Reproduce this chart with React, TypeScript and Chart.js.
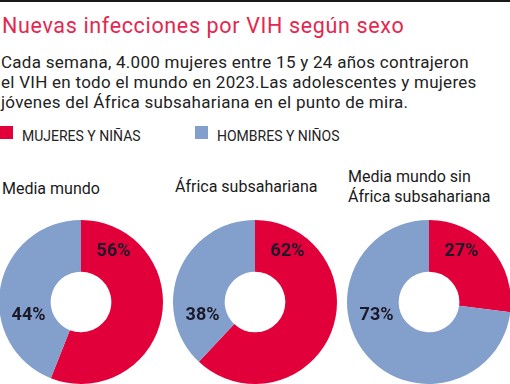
import React, { useEffect, useRef } from "react";
import { Chart, registerables } from "chart.js";

Chart.register(...registerables);

const TITLE = "Nuevas infecciones por VIH según sexo";
const SUBTITLE_LINES = [
  "Cada semana, 4.000 mujeres entre 15 y 24 años contrajeron",
  "el VIH en todo el mundo en 2023.Las adolescentes y mujeres",
  "jóvenes del África subsahariana en el punto de mira.",
];
const SERIES = ["MUJERES Y NIÑAS", "HOMBRES Y NIÑOS"];
const CATEGORIES = [
  ["Media mundo"],
  ["África subsahariana"],
  ["Media mundo sin", "África subsahariana"],
];
const WOMEN = [56, 62, 27];
const MEN = [44, 38, 73];

const RED = "#e2003b";
const BLUE = "#839fcb";
const FONT = "Roboto, 'Noto Sans', sans-serif";

const labelPlugin = {
  id: "sliceLabels",
  afterDatasetsDraw(chart: any) {
    const meta = chart.getDatasetMeta(0);
    const ds = chart.data.datasets[0];
    const arc = meta.data[0];
    if (!arc) return;
    const { x, y, outerRadius } = arc.getProps(["x", "y", "outerRadius"], true);
    const spots = [
      { deg: 33, r: 0.73 },
      { deg: 255.5, r: 0.66 },
    ];
    const ctx = chart.ctx;
    ctx.save();
    ctx.font = `bold 18px ${FONT}`;
    ctx.fillStyle = "#1c1a2a";
    ctx.textAlign = "center";
    ctx.textBaseline = "middle";
    ds.data.forEach((v: number, i: number) => {
      const s = spots[i];
      const a = (s.deg * Math.PI) / 180;
      const rr = outerRadius * s.r;
      ctx.fillText(`${v}%`, x + Math.sin(a) * rr, y - Math.cos(a) * rr);
    });
    ctx.restore();
  },
};

function Donut({ women, men, left }: { women: number; men: number; left: number }) {
  const ref = useRef<HTMLCanvasElement>(null);
  useEffect(() => {
    const chart = new Chart(ref.current!, {
      type: "doughnut",
      data: {
        labels: SERIES,
        datasets: [
          {
            data: [women, men],
            backgroundColor: [RED, BLUE],
            borderWidth: 0,
          },
        ],
      },
      options: {
        animation: false,
        responsive: false,
        cutout: "37%",
        layout: { padding: 0 },
        plugins: { legend: { display: false }, tooltip: { enabled: false } },
      },
      plugins: [labelPlugin],
    });
    return () => chart.destroy();
  }, [women, men]);
  return (
    <canvas
      ref={ref}
      width={164}
      height={164}
      style={{ position: "absolute", left, top: 220, width: 164, height: 164 }}
    />
  );
}

export default function App() {
  const lefts = [-1, 173, 347];
  const titleTops = [178.5, 176.5, 166.5];
  const titleLefts = [2, 175, 348];
  return (
    <div
      style={{
        position: "absolute",
        left: 0,
        top: 0,
        width: 510,
        height: 384,
        overflow: "hidden",
        background: "#fff",
        fontFamily: FONT,
        color: "#222",
      }}
    >
      <div style={{ position: "absolute", left: 0, top: 0, width: 510, height: 2, background: "#1a1a1a" }} />
      <div
        style={{
          position: "absolute",
          left: 2,
          top: 12.5,
          fontSize: 21.5,
          lineHeight: "26px",
          letterSpacing: "0.65px",
          color: "#e5264e",
          whiteSpace: "nowrap",
        }}
      >
        {TITLE}
      </div>
      <div
        style={{
          position: "absolute",
          left: 1,
          top: 52,
          fontSize: 17,
          lineHeight: "20px",
          letterSpacing: "0.27px",
          color: "#222",
          whiteSpace: "nowrap",
        }}
      >
        {SUBTITLE_LINES.map((l, i) => (
          <div key={i}>{l}</div>
        ))}
      </div>
      {SERIES.map((s, i) => (
        <React.Fragment key={s}>
          <div
            style={{
              position: "absolute",
              left: i === 0 ? 0 : 195,
              top: 126,
              width: 13,
              height: 13,
              background: i === 0 ? RED : BLUE,
            }}
          />
          <div
            style={{
              position: "absolute",
              left: i === 0 ? 22 : 217,
              top: 128,
              fontSize: 14,
              lineHeight: "16px",
              color: "#222",
              whiteSpace: "nowrap",
            }}
          >
            {s}
          </div>
        </React.Fragment>
      ))}
      {CATEGORIES.map((c, i) => (
        <div
          key={i}
          style={{
            position: "absolute",
            left: titleLefts[i],
            top: titleTops[i],
            fontSize: 16,
            lineHeight: "20px",
            color: "#1a1a1a",
            whiteSpace: "nowrap",
          }}
        >
          {c.map((l, j) => (
            <div key={j}>{l}</div>
          ))}
        </div>
      ))}
      {WOMEN.map((w, i) => (
        <Donut key={i} women={w} men={MEN[i]} left={lefts[i]} />
      ))}
    </div>
  );
}
